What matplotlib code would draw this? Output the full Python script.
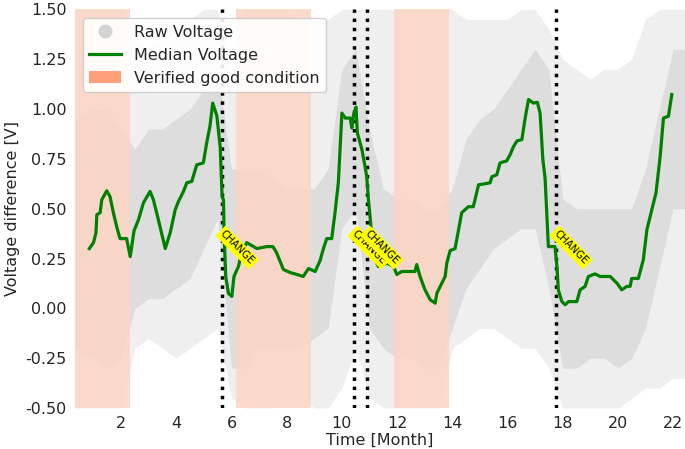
import numpy as np
import matplotlib
matplotlib.use("Agg")
import matplotlib.pyplot as plt
from matplotlib.lines import Line2D
from matplotlib.patches import Patch

# ---------------- data ----------------
med_t = [0.85,1.0,1.09,1.12,1.24,1.3,1.48,1.6,1.72,1.84,1.96,2.2,2.33,2.47,2.63,2.81,3.05,3.17,3.35,3.6,
         3.78,3.96,4.08,4.26,4.38,4.56,4.74,4.98,5.1,5.22,5.32,5.47,5.59,5.66,5.71,5.73,5.79,5.89,6.01,6.09,
         6.25,6.37,6.55,6.92,7.28,7.5,7.63,7.88,8.12,8.37,8.6,8.79,9.03,9.21,9.33,9.45,9.63,9.75,9.87,10.0,
         10.12,10.3,10.36,10.42,10.51,10.56,10.72,10.84,10.9,10.96,11.02,11.14,11.32,11.63,11.87,11.99,12.17,12.47,12.65,12.71,
         12.83,13.01,13.2,13.38,13.44,13.56,13.74,13.8,13.92,14.1,14.22,14.34,14.58,14.76,14.95,15.37,15.43,15.61,15.73,15.97,
         16.09,16.21,16.34,16.52,16.64,16.76,16.94,17.08,17.18,17.28,17.36,17.48,17.72,17.79,17.84,17.97,18.09,18.21,18.51,18.63,
         18.81,18.93,19.17,19.36,19.72,19.96,20.14,20.32,20.44,20.5,20.74,20.92,21.05,21.23,21.38,21.53,21.65,21.83,21.95]
med_v = [0.30,0.33,0.38,0.47,0.48,0.545,0.59,0.56,0.48,0.41,0.35,0.35,0.26,0.39,0.445,0.53,0.587,0.545,0.445,0.30,
         0.38,0.495,0.537,0.587,0.63,0.637,0.72,0.73,0.83,0.915,1.03,0.965,0.81,0.56,0.545,0.38,0.16,0.075,0.06,0.16,
         0.21,0.28,0.33,0.30,0.31,0.31,0.28,0.195,0.18,0.17,0.16,0.20,0.185,0.24,0.30,0.35,0.35,0.48,0.63,0.98,
         0.955,0.955,0.905,0.97,1.01,0.88,0.80,0.71,0.66,0.545,0.46,0.26,0.21,0.227,0.21,0.17,0.185,0.185,0.185,0.22,
         0.16,0.093,0.043,0.026,0.076,0.11,0.16,0.227,0.29,0.30,0.39,0.48,0.51,0.51,0.62,0.63,0.66,0.67,0.73,0.74,
         0.77,0.81,0.84,0.847,0.955,1.048,1.03,1.034,0.98,0.746,0.655,0.31,0.31,0.21,0.093,0.034,0.018,0.034,0.034,0.093,
         0.11,0.16,0.173,0.16,0.16,0.127,0.093,0.11,0.11,0.15,0.15,0.244,0.395,0.495,0.58,0.763,0.955,0.964,1.073]

# raw voltage envelopes (sampled every half month)
raw_t = [0.33,1.0,1.5,2.0,2.5,3.0,3.5,4.0,4.5,5.0,5.5,6.0,6.5,7.0,7.5,8.0,8.5,9.0,9.5,10.0,10.5,11.0,11.5,
         12.0,12.5,13.0,13.5,14.0,14.5,15.0,15.5,16.0,16.5,17.0,17.5,18.0,18.5,19.0,19.5,20.0,20.5,21.0,21.5,22.0,22.43]
raw_hi = [1.5,1.5,1.5,1.5,1.35,1.3,1.35,1.4,1.45,1.5,1.5,1.2,1.5,1.5,1.5,1.5,1.4,1.45,1.45,1.5,1.5,1.5,1.5,
          1.5,1.5,1.5,1.5,1.5,1.45,1.45,1.45,1.45,1.5,1.5,1.4,1.25,1.2,1.15,1.2,1.2,1.25,1.45,1.5,1.5,1.5]
raw_lo = [-0.5,-0.5,-0.5,-0.5,-0.2,-0.15,-0.2,-0.25,-0.2,-0.15,-0.1,-0.45,-0.5,-0.5,-0.5,-0.45,-0.45,-0.5,-0.5,-0.4,-0.2,-0.45,-0.5,
          -0.5,-0.5,-0.5,-0.5,-0.2,-0.15,-0.1,-0.1,-0.15,-0.2,-0.2,-0.3,-0.5,-0.5,-0.5,-0.5,-0.5,-0.45,-0.4,-0.4,-0.35,-0.35]
raw_in_hi = [0.95,1.0,1.0,0.9,0.8,0.9,0.9,0.95,1.0,1.1,1.2,0.7,0.7,0.7,0.65,0.6,0.6,0.6,0.7,1.2,1.3,0.9,0.6,
             0.55,0.55,0.5,0.5,0.6,0.85,0.95,1.0,1.1,1.2,1.3,1.2,0.55,0.5,0.5,0.5,0.5,0.5,0.7,1.0,1.3,1.3]
raw_in_lo = [-0.2,-0.25,-0.3,-0.25,0.0,0.05,0.05,0.1,0.15,0.3,0.45,-0.3,-0.3,-0.2,-0.2,-0.2,-0.2,-0.15,-0.1,0.4,0.5,-0.1,-0.2,
             -0.25,-0.25,-0.3,-0.3,-0.1,0.1,0.2,0.3,0.35,0.4,0.4,0.1,-0.3,-0.3,-0.25,-0.25,-0.3,-0.25,-0.1,0.2,0.5,0.5]

good_start = [0.33, 6.17, 11.9]
good_end = [2.33, 8.88, 13.88]
change_t = [5.66, 10.44, 10.9, 17.76]
change_label_y = 0.40

xticks = [2, 4, 6, 8, 10, 12, 14, 16, 18, 20, 22]
yticks = [-0.5, -0.25, 0.0, 0.25, 0.5, 0.75, 1.0, 1.25, 1.5]

# ---------------- plot ----------------
plt.rcParams['font.family'] = ['DejaVu Sans']
fig = plt.figure(figsize=(6.85, 4.49), dpi=100)
ax = fig.add_axes([0.1095, 0.0913, 0.8905, 0.8877])

ax.fill_between(raw_t, raw_lo, raw_hi, color='#efefef', lw=0, zorder=1)
ax.fill_between(raw_t, raw_in_lo, raw_in_hi, color='#dddddd', lw=0, zorder=1)

for s, e in zip(good_start, good_end):
    ax.axvspan(s, e, color='#fdd5c4', alpha=0.85, lw=0, zorder=2)

for c in change_t:
    ax.axvline(c, color='black', ls=':', lw=2.5, zorder=3)

ax.plot(med_t, med_v, color='green', lw=2.3, zorder=4)

for c in change_t:
    ax.text(c + 0.12, change_label_y, 'CHANGE', rotation=-45, rotation_mode='anchor',
            ha='left', va='top', fontsize=7.3, zorder=6,
            bbox=dict(facecolor='yellow', edgecolor='none', pad=1.5))

ax.set_xlim(0.33, 22.43)
ax.set_ylim(-0.5, 1.5)
ax.set_xticks(xticks)
ax.set_yticks(yticks)
ax.set_yticklabels([f'{v:.2f}' for v in yticks])
ax.tick_params(length=0, labelsize=11.5, colors='#262626', pad=6)
for sp in ax.spines.values():
    sp.set_visible(False)
ax.set_xlabel('Time [Month]', fontsize=11.5, color='#262626', labelpad=1)
ax.set_ylabel('Voltage difference [V]', fontsize=11.5, color='#262626', labelpad=4)

handles = [Line2D([], [], marker='o', ls='none', color='lightgray', markersize=9),
           Line2D([], [], color='green', lw=2.3),
           Patch(facecolor='lightsalmon', edgecolor='none')]
leg = ax.legend(handles, ['Raw Voltage', 'Median Voltage', 'Verified good condition'],
                loc='upper left', fontsize=11.5, frameon=True, framealpha=0.9,
                borderaxespad=0.5, bbox_to_anchor=(0.0, 0.998))
for t in leg.get_texts():
    t.set_color('#262626')

fig.savefig('out.png', dpi=100)
